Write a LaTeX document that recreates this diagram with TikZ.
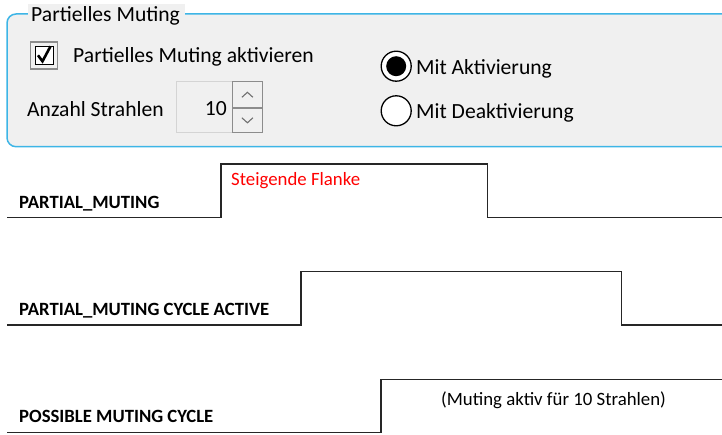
\documentclass[tikz,border=0pt]{standalone}
\usepackage{fontspec}
\setmainfont{Carlito}
\definecolor{panel}{HTML}{F0F0F0}
\definecolor{frameblue}{HTML}{3DB5E6}
\definecolor{btnborder}{HTML}{8C8C8C}
\definecolor{fieldborder}{HTML}{D4D4D4}
\definecolor{chevron}{HTML}{707070}
\definecolor{signal}{HTML}{262626}
\definecolor{edgered}{HTML}{FF0000}
\tikzset{
  uitext/.style={anchor=base west, inner sep=0pt, font=\fontsize{21.6}{25}\selectfont},
  siglabel/.style={anchor=base west, inner sep=0pt, font=\fontsize{18.7}{22}\selectfont\bfseries},
  note/.style={anchor=base west, inner sep=0pt, font=\fontsize{18.8}{22}\selectfont},
  sig/.style={draw=signal, line width=1.6pt},
  radio/.style={circle, draw=black, line width=1.3pt, fill=white, minimum size=30pt, inner sep=0pt},
}
\begin{document}
\begin{tikzpicture}[x=1pt,y=-1pt]
\useasboundingbox (0,0) rectangle (722,435);
\clip (0,0) rectangle (722,435);

% settings group box
\draw[frameblue, fill=panel, line width=1.5pt, rounded corners=9pt] (7,14) rectangle (760,146.7);
\fill[panel] (28,4) rectangle (185,25);
\node[uitext] (title) at (31,21.7) {Partielles Muting};

% checkbox
\node[draw=btnborder, line width=1.8pt, fill=panel, minimum size=27pt, inner sep=0pt] (cbox) at (44,55.3) {};
\node[draw=black, line width=1pt, fill=white, minimum size=18pt, inner sep=0pt] (cinner) at (cbox.center) {};
\draw[black, line width=2.6pt, line join=miter]
  ([shift={(-6,0)}]cinner.center) -- ([shift={(-1.5,6)}]cinner.center) -- ([shift={(6.5,-9)}]cinner.center);
\node[uitext] (cblabel) at (73,62.7) {Partielles Muting aktivieren};

% beam count spin box
\node[uitext] (count) at (27,116.5) {Anzahl Strahlen};
\draw[fieldborder, fill=panel, line width=0.8pt] (176.5,81) rectangle (232,132);
\node[anchor=base east, inner sep=0pt, font=\fontsize{21.6}{25}\selectfont] (value) at (227,115.5) {10};
\node[draw=btnborder, line width=1.3pt, fill=panel, minimum width=29.5pt, minimum height=26.3pt, inner sep=0pt, anchor=north west] (up) at (232,81) {};
\node[draw=btnborder, line width=1.3pt, fill=panel, minimum width=29.5pt, minimum height=24.7pt, inner sep=0pt, anchor=north west] (down) at (232,107.3) {};
\draw[chevron, line width=1.1pt] ([shift={(-5.5,2.5)}]up.center) -- ([shift={(0,-2.5)}]up.center) -- ([shift={(5.5,2.5)}]up.center);
\draw[chevron, line width=1.1pt] ([shift={(-5.5,-2.5)}]down.center) -- ([shift={(0,2.5)}]down.center) -- ([shift={(5.5,-2.5)}]down.center);

% radio buttons
\node[radio] (rOn) at (396.2,66.2) {};
\fill[black] (rOn.center) circle (10pt);
\node[uitext] (rOnLabel) at (416,75) {Mit Aktivierung};
\node[radio] (rOff) at (396.2,110.8) {};
\node[uitext] (rOffLabel) at (416,118.5) {Mit Deaktivierung};

% PARTIAL_MUTING
\coordinate (a0) at (7,217.5);
\coordinate (a1) at (220.7,217.5);
\coordinate (a2) at (220.7,164);
\coordinate (a3) at (487.5,164);
\coordinate (a4) at (487.5,217.5);
\coordinate (a5) at (722,217.5);
\draw[sig] (a0) -- (a1) -- (a2) -- (a3) -- (a4) -- (a5);
\node[siglabel] (labA) at (19,208.3) {PARTIAL\_MUTING};
\node[note, text=edgered] (edge) at (231,186) {Steigende Flanke};

% PARTIAL_MUTING CYCLE ACTIVE
\coordinate (b0) at (7,325);
\coordinate (b1) at (300.8,325);
\coordinate (b2) at (300.8,271.7);
\coordinate (b3) at (621.5,271.7);
\coordinate (b4) at (621.5,325);
\coordinate (b5) at (722,325);
\draw[sig] (b0) -- (b1) -- (b2) -- (b3) -- (b4) -- (b5);
\node[siglabel] (labB) at (19,315.5) {PARTIAL\_MUTING CYCLE ACTIVE};

% POSSIBLE MUTING CYCLE
\coordinate (c0) at (7,432.3);
\coordinate (c1) at (380.8,432.3);
\coordinate (c2) at (380.8,379.3);
\coordinate (c3) at (722,379.3);
\draw[sig] (c0) -- (c1) -- (c2) -- (c3);
\node[siglabel] (labC) at (19,422.5) {POSSIBLE MUTING CYCLE};
\node[note] (span) at (441,405.5) {(Muting aktiv für 10 Strahlen)};
\end{tikzpicture}
\end{document}
